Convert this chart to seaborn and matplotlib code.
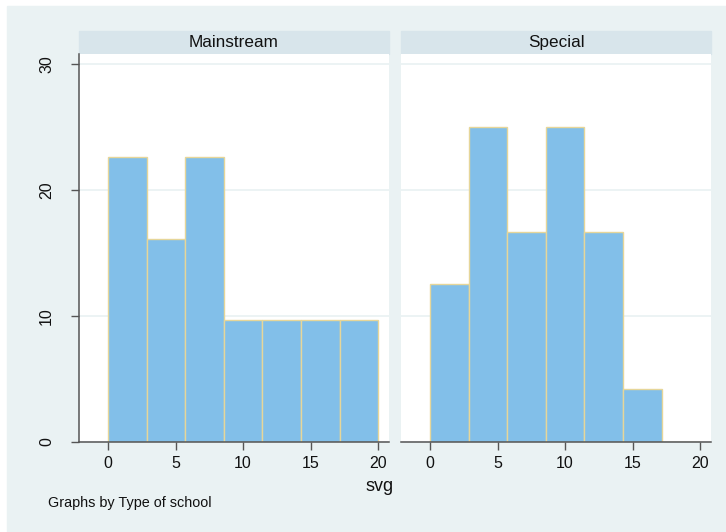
import numpy as np
import pandas as pd
import matplotlib
matplotlib.use('Agg')
import matplotlib.pyplot as plt
from matplotlib.patches import Rectangle
import seaborn as sns

# bin edges of the svg histogram (7 bins from 0 to 20)
bin_edges = [0, 2.857, 5.714, 8.571, 11.429, 14.286, 17.143, 20]
# percent per bin
mainstream_pct = [22.6, 16.1, 22.6, 9.7, 9.7, 9.7, 9.7]
special_pct = [12.5, 25.0, 16.7, 25.0, 16.7, 4.2, 0.0]
panels = ['Mainstream', 'Special']
x_ticks = [0, 5, 10, 15, 20]
y_ticks = [0, 10, 20, 30]

sns.set_theme(style='white')
plt.rcParams['font.family'] = ['Liberation Sans', 'DejaVu Sans']

W, H = 726, 532
BG = '#eaf2f3'
STRIP = '#d8e5eb'
FILL = '#82bfe9'
EDGE = '#e6d699'
AXC = '#555555'
TXT = '#111111'

centers = [(a + b) / 2 for a, b in zip(bin_edges[:-1], bin_edges[1:])]
df = pd.DataFrame({
    'svg': centers * 2,
    'pct': mainstream_pct + special_pct,
    'school': [panels[0]] * len(centers) + [panels[1]] * len(centers),
})

fig = plt.figure(figsize=(W / 100, H / 100), dpi=100, facecolor='white')
fig.patches.append(Rectangle((7 / W, 0), 1 - 7 / W, 1 - 6 / H,
                             transform=fig.transFigure, color=BG, zorder=-10))

lefts = [79, 401]
pw = 310
top, bottom = 54, 442
for i, name in enumerate(panels):
    ax = fig.add_axes([lefts[i] / W, (H - bottom) / H, pw / W, (bottom - top) / H])
    sub = df[df['school'] == name]
    sns.histplot(data=sub, x='svg', weights='pct', bins=bin_edges, ax=ax,
                 color=FILL, edgecolor=EDGE, linewidth=1.0, alpha=1)
    ax.set_facecolor('white')
    ax.set_xlim(-2.15, 20.8)
    ax.set_ylim(0, 30.79)
    ax.set_xticks(x_ticks)
    ax.set_yticks(y_ticks)
    ax.set_axisbelow(True)
    ax.yaxis.grid(True, color=BG, linewidth=1.3)
    ax.xaxis.grid(False)
    for s in ['top', 'right']:
        ax.spines[s].set_visible(False)
    ax.spines['bottom'].set_color(AXC)
    ax.spines['bottom'].set_linewidth(1.1)
    ax.tick_params(axis='x', direction='out', length=6, width=1, color=AXC,
                   labelsize=11.5, labelcolor=TXT, pad=4, bottom=True)
    if i == 0:
        ax.spines['left'].set_color(AXC)
        ax.spines['left'].set_linewidth(1.1)
        ax.tick_params(axis='y', direction='out', length=6, width=1, color=AXC,
                       labelsize=11.5, labelcolor=TXT, pad=12, left=True)
        for lab in ax.get_yticklabels():
            lab.set_rotation(90)
            lab.set_va('center')
    else:
        ax.spines['left'].set_visible(False)
        ax.tick_params(axis='y', left=False, labelleft=False)
    ax.set_xlabel('')
    ax.set_ylabel('')
    # facet strip
    fig.patches.append(Rectangle((lefts[i] / W, (H - top) / H), pw / W, 23 / H,
                                 transform=fig.transFigure, color=STRIP, zorder=-5))
    fig.text((lefts[i] + pw / 2) / W, (H - 42.5) / H, name, ha='center', va='center',
             fontsize=12.3, color=TXT)

fig.text(380 / W, (H - 491) / H, 'svg', ha='center', va='baseline', fontsize=13, color=TXT)
fig.text(48 / W, (H - 503) / H, 'Graphs by Type of school', ha='left', va='center',
         fontsize=10.4, color=TXT)

fig.savefig('out.png', dpi=100, facecolor=fig.get_facecolor())
